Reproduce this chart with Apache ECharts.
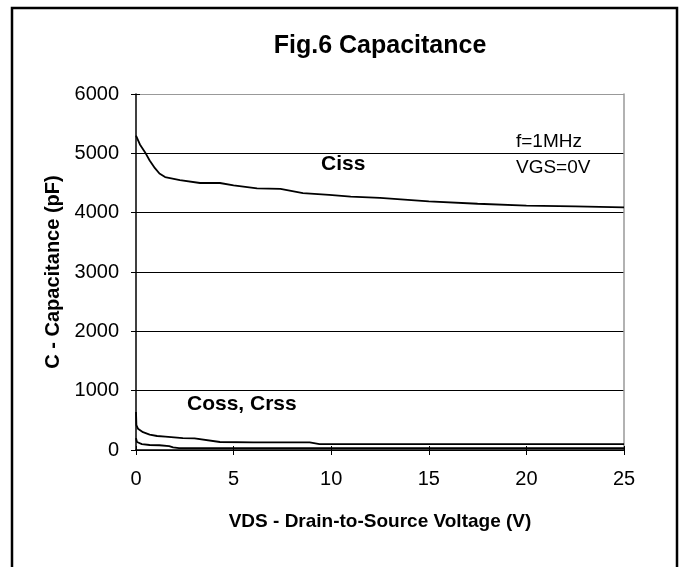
<!DOCTYPE html>
<html>
<head>
<meta charset="utf-8">
<script src="https://cdn.jsdelivr.net/npm/echarts@6/dist/echarts.min.js"></script>
<style>
  html, body { margin: 0; padding: 0; background: #fff; }
  #main { width: 684px; height: 567px; }
</style>
</head>
<body>
<div id="main"></div>
<script>
// values
var cissV = [0, 0.2, 0.46, 0.7, 0.97, 1.2, 1.49, 2.25, 3.28, 4.3, 5, 6.2, 7.4, 8.55, 9.9, 11, 12.5, 15, 17.5, 20, 22.5, 25];
var cissC = [5300, 5150, 5020, 4880, 4750, 4660, 4600, 4550, 4500, 4500, 4460, 4410, 4400, 4330, 4300, 4270, 4250, 4190, 4150, 4120, 4105, 4090];

var cossV = [0, 0.02, 0.1, 0.36, 0.7, 1.08, 1.5, 2.4, 3, 4.3, 6, 8.9, 9.4, 12, 25];
var cossC = [640, 420, 360, 300, 260, 236, 225, 200, 195, 135, 130, 130, 100, 100, 100];

var crssV = [0, 0.05, 0.3, 0.7, 1.2, 1.7, 1.9, 2.2, 5, 25];
var crssC = [200, 135, 100, 84, 80, 67, 45, 30, 30, 30];

function pairs(xs, ys) {
  return xs.map(function (x, i) { return [x, ys[i]]; });
}

var font = 'Liberation Sans, Arial, sans-serif';
var myChart = echarts.init(document.getElementById('main'));

var lineSeries = function (name, xs, ys) {
  return {
    name: name,
    type: 'line',
    data: pairs(xs, ys),
    symbol: 'none',
    lineStyle: { color: '#000', width: 1.8 },
    silent: true
  };
};

myChart.setOption({
  animation: false,
  backgroundColor: '#fff',
  grid: { left: 136, right: 60, top: 94, bottom: 117 },
  xAxis: [
    {
      type: 'value', min: 0, max: 25, interval: 5,
      name: 'VDS - Drain-to-Source Voltage (V)',
      nameLocation: 'middle', nameGap: 62,
      nameTextStyle: { fontFamily: font, fontWeight: 'bold', fontSize: 19, color: '#000' },
      axisLine: { lineStyle: { color: '#000', width: 1.5 } },
      axisTick: { length: 5, lineStyle: { color: '#000' } },
      axisLabel: { margin: 19, fontFamily: font, fontSize: 20, color: '#000' },
      splitLine: { show: false }
    },
    {
      type: 'value', min: 0, max: 25, interval: 5, position: 'bottom',
      axisLine: { show: false },
      axisTick: { inside: true, length: 4, lineStyle: { color: '#000' } },
      axisLabel: { show: false },
      splitLine: { show: false }
    }
  ],
  yAxis: [
    {
      type: 'value', min: 0, max: 6000, interval: 1000,
      name: 'C - Capacitance (pF)',
      nameLocation: 'middle', nameGap: 72,
      nameTextStyle: { fontFamily: font, fontWeight: 'bold', fontSize: 20, color: '#000' },
      axisLine: { show: true, lineStyle: { color: '#000', width: 1.5 } },
      axisTick: { show: true, length: 5, lineStyle: { color: '#000' } },
      axisLabel: { margin: 17, fontFamily: font, fontSize: 20, color: '#000', formatter: function (v) { return String(v); } },
      splitLine: { show: true, lineStyle: { color: ['#000', '#000', '#000', '#000', '#000', '#000', '#999'], width: 1 } }
    },
    {
      type: 'value', min: 0, max: 6000, interval: 1000, position: 'left',
      axisLine: { show: false },
      axisTick: { show: true, inside: true, length: 4, lineStyle: { color: '#000' } },
      axisLabel: { show: false },
      splitLine: { show: false }
    },
    {
      type: 'value', min: 0, max: 6000, position: 'right',
      axisLine: { show: true, lineStyle: { color: '#999', width: 1.5 } },
      axisTick: { show: false },
      axisLabel: { show: false },
      splitLine: { show: false }
    }
  ],
  series: [
    lineSeries('Ciss', cissV, cissC),
    lineSeries('Coss', cossV, cossC),
    lineSeries('Crss', crssV, crssC)
  ],
  graphic: [
    {
      type: 'rect', silent: true,
      shape: { x: 12, y: 8, width: 665, height: 620 },
      style: { fill: 'none', stroke: '#000', lineWidth: 2.5 }
    },
    {
      type: 'text', x: 380, y: 46,
      style: { text: 'Fig.6 Capacitance', fontFamily: font, fontWeight: 'bold', fontSize: 25, fill: '#000', align: 'center', verticalAlign: 'middle' }
    },
    {
      type: 'text', x: 321, y: 164,
      style: { text: 'Ciss', fontFamily: font, fontWeight: 'bold', fontSize: 21, fill: '#000', align: 'left', verticalAlign: 'middle' }
    },
    {
      type: 'text', x: 187, y: 404,
      style: { text: 'Coss, Crss', fontFamily: font, fontWeight: 'bold', fontSize: 21, fill: '#000', align: 'left', verticalAlign: 'middle' }
    },
    {
      type: 'text', x: 516, y: 142,
      style: { text: 'f=1MHz', fontFamily: font, fontSize: 19, fill: '#000', align: 'left', verticalAlign: 'middle' }
    },
    {
      type: 'text', x: 516, y: 168,
      style: { text: 'VGS=0V', fontFamily: font, fontSize: 19, fill: '#000', align: 'left', verticalAlign: 'middle' }
    }
  ]
});
</script>
</body>
</html>
